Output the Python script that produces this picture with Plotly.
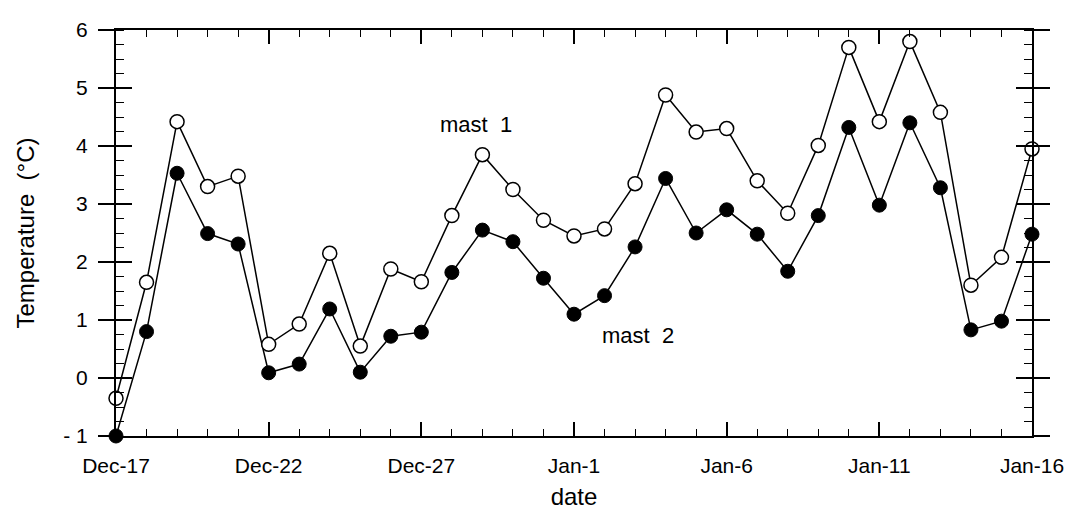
import plotly.graph_objects as go

dates = ["1995-12-17", "1995-12-18", "1995-12-19", "1995-12-20", "1995-12-21",
         "1995-12-22", "1995-12-23", "1995-12-24", "1995-12-25", "1995-12-26",
         "1995-12-27", "1995-12-28", "1995-12-29", "1995-12-30", "1995-12-31",
         "1996-01-01", "1996-01-02", "1996-01-03", "1996-01-04", "1996-01-05",
         "1996-01-06", "1996-01-07", "1996-01-08", "1996-01-09", "1996-01-10",
         "1996-01-11", "1996-01-12", "1996-01-13", "1996-01-14", "1996-01-15",
         "1996-01-16"]

mast1 = [-0.35, 1.65, 4.42, 3.30, 3.48, 0.58, 0.93, 2.15, 0.55, 1.88,
         1.66, 2.80, 3.85, 3.25, 2.72, 2.45, 2.57, 3.35, 4.88, 4.24,
         4.30, 3.40, 2.84, 4.01, 5.70, 4.42, 5.80, 4.58, 1.60, 2.08, 3.95]

mast2 = [-1.00, 0.80, 3.53, 2.49, 2.31, 0.09, 0.24, 1.19, 0.10, 0.72,
         0.79, 1.82, 2.55, 2.35, 1.72, 1.10, 1.42, 2.26, 3.44, 2.50,
         2.90, 2.48, 1.84, 2.80, 4.32, 2.98, 4.40, 3.28, 0.83, 0.98, 2.48]

x_tickvals = ["1995-12-17", "1995-12-22", "1995-12-27", "1996-01-01",
              "1996-01-06", "1996-01-11", "1996-01-16"]
x_ticktext = ["Dec-17", "Dec-22", "Dec-27", "Jan-1", "Jan-6", "Jan-11", "Jan-16"]

y_tickvals = [-1, 0, 1, 2, 3, 4, 5, 6]
y_ticktext = ["- 1", "0", "1", "2", "3", "4", "5", "6"]

labels = [("mast  1", "1995-12-28 19:00", 4.37), ("mast  2", "1996-01-03 02:00", 0.73)]

FONT = "Liberation Sans, Arial, sans-serif"

fig = go.Figure()

fig.add_trace(go.Scatter(
    x=dates, y=mast2, mode="lines+markers", name="mast 2",
    line=dict(color="black", width=1.5),
    marker=dict(symbol="circle", size=14, color="black",
                line=dict(color="black", width=1)),
    cliponaxis=False, showlegend=False))

fig.add_trace(go.Scatter(
    x=dates, y=mast1, mode="lines+markers", name="mast 1",
    line=dict(color="black", width=1.5),
    marker=dict(symbol="circle", size=14, color="white",
                line=dict(color="black", width=1.5)),
    cliponaxis=False, showlegend=False))

# invisible trace to activate the overlay axis (inner halves of crossing ticks)
fig.add_trace(go.Scatter(x=[dates[0]], y=[None], yaxis="y2",
                         mode="markers", showlegend=False, hoverinfo="skip"))

for txt, xv, yv in labels:
    fig.add_annotation(x=xv, y=yv, text=txt, showarrow=False,
                       font=dict(family=FONT, size=22, color="black"))

fig.update_layout(
    width=1078, height=515,
    margin=dict(l=116, r=46, t=30, b=79),
    paper_bgcolor="white", plot_bgcolor="white",
    font=dict(family=FONT, color="black"),
    xaxis=dict(
        type="date", range=[dates[0], dates[-1]], automargin=False,
        tickmode="array", tickvals=x_tickvals, ticktext=x_ticktext,
        ticks="inside", ticklen=14, tickwidth=1.5, tickcolor="black",
        minor=dict(dtick=86400000, tick0=dates[0], ticks="inside",
                   ticklen=7, tickwidth=1.2, tickcolor="black", showgrid=False),
        showline=True, linewidth=2, linecolor="black", mirror="ticks",
        showgrid=False, zeroline=False,
        tickfont=dict(family=FONT, size=21, color="black"),
        ticklabelstandoff=10,
        title=dict(text="date", font=dict(family=FONT, size=24, color="black"),
                   standoff=12),
    ),
    yaxis=dict(
        range=[-1, 6], tickmode="array", tickvals=y_tickvals, ticktext=y_ticktext,
        automargin=False,
        ticks="outside", ticklen=16, tickwidth=1.5, tickcolor="black",
        minor=dict(dtick=0.25, tick0=0, ticks="inside", ticklen=8,
                   tickwidth=1.2, tickcolor="black", showgrid=False),
        showline=True, linewidth=2, linecolor="black", mirror="ticks",
        showgrid=False, zeroline=False,
        tickfont=dict(family=FONT, size=21, color="black"),
        ticklabelstandoff=6,
        title=dict(text="Temperature  (°C)",
                   font=dict(family=FONT, size=24, color="black"), standoff=22),
    ),
    yaxis2=dict(
        range=[-1, 6], overlaying="y", side="left", automargin=False,
        tickmode="array", tickvals=y_tickvals,
        ticks="inside", ticklen=16, tickwidth=1.5, tickcolor="black",
        mirror="ticks", showline=False, showgrid=False, zeroline=False,
        showticklabels=False,
    ),
)

fig.write_html("out.html")
